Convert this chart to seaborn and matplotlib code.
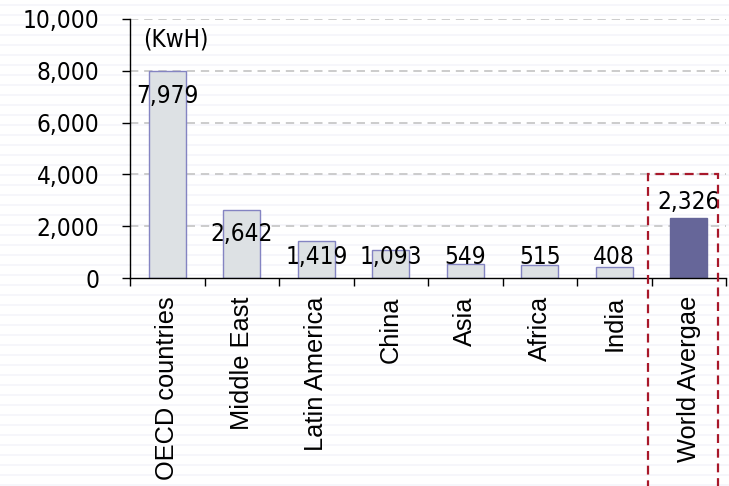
import matplotlib
matplotlib.use("Agg")
import matplotlib.pyplot as plt
import matplotlib.transforms as mtransforms
from matplotlib.patches import Rectangle
from matplotlib.font_manager import FontProperties
import seaborn as sns

# Per-capita electricity consumption (KwH)
categories = ["OECD countries", "Middle East", "Latin America", "China",
              "Asia", "Africa", "India", "World Avergae"]
values = [7979, 2642, 1419, 1093, 549, 515, 408, 2326]
value_labels = ["7,979", "2,642", "1,419", "1,093", "549", "515", "408", "2,326"]
highlight = "World Avergae"
unit_label = "(KwH)"
y_ticks = [0, 2000, 4000, 6000, 8000, 10000]

sns.set_theme(style="white")
plt.rcParams["font.family"] = ["DejaVu Sans"]
plt.rcParams["text.color"] = "black"
plt.rcParams["xtick.color"] = "black"
plt.rcParams["ytick.color"] = "black"

num_font = FontProperties(family="DejaVu Sans", stretch="condensed", size=17.5)
cat_font = FontProperties(family="Liberation Sans", size=18.3)

W, H = 729, 486
fig = plt.figure(figsize=(W / 100, H / 100), dpi=100)
fig.patch.set_facecolor("white")

# faint horizontal stripe texture behind everything
bg = fig.add_axes([0, 0, 1, 1], zorder=-5)
bg.set_xlim(0, W)
bg.set_ylim(H, 0)
bg.axis("off")
for y0 in range(4, H, 10):
    bg.axhspan(y0, y0 + 2, color="#F6F6FB", lw=0)

ax = fig.add_axes([130 / W, 1 - 278 / H, 596 / W, 259 / H])
ax.set_facecolor("none")

gray_fill, gray_edge = "#DDE1E4", "#8484C2"
hi_color = "#666699"
palette = {c: (hi_color if c == highlight else gray_fill) for c in categories}

sns.barplot(x=categories, y=values, hue=categories, palette=palette,
            legend=False, width=0.5, ax=ax, zorder=3, saturation=1)
for patch, cat in zip(ax.patches, categories):
    patch.set_edgecolor(hi_color if cat == highlight else gray_edge)
    patch.set_linewidth(1.0)

ax.set_xlim(-0.5, len(categories) - 0.5)
ax.set_ylim(0, 10000)
ax.set_yticks(y_ticks)
ax.set_yticklabels([f"{t:,}" for t in y_ticks])
for lab in ax.get_yticklabels():
    lab.set_fontproperties(num_font)
    lab.set_color("black")

# dashed gridlines
for t in y_ticks[1:]:
    ax.axhline(t, color="#C4C4C4", lw=1.2, ls=(0, (5, 3.5)), zorder=1)

# spines and ticks
for s in ["top", "right"]:
    ax.spines[s].set_visible(False)
for s in ["left", "bottom"]:
    ax.spines[s].set_color("black")
    ax.spines[s].set_linewidth(1.0)
    ax.spines[s].set_zorder(4)

ax.tick_params(axis="y", direction="out", length=6, width=1, color="black",
               pad=16, left=True)
ax.set_xticks(range(len(categories)))
ax.set_xticklabels(categories, rotation=90)
shift = mtransforms.ScaledTranslation(3 / 100, 0, fig.dpi_scale_trans)
for lab in ax.get_xticklabels():
    lab.set_fontproperties(cat_font)
    lab.set_color("black")
    lab.set_transform(lab.get_transform() + shift)
ax.tick_params(axis="x", which="major", length=0, pad=13)
ax.set_xticks([i - 0.5 for i in range(len(categories) + 1)], minor=True)
ax.tick_params(axis="x", which="minor", direction="out", length=6, width=1,
               color="black", bottom=True)
ax.set_xlabel("")
ax.set_ylabel("")

# value labels
for i, (v, lab, cat) in enumerate(zip(values, value_labels, categories)):
    if cat == highlight:
        y = v + 600
    else:
        y = max(v - 960, 810)
    ax.text(i, y, lab, ha="center", va="center", fontproperties=num_font,
            color="black", zorder=5)

ax.text(-0.32, 9200, unit_label, ha="left", va="center",
        fontproperties=num_font, color="black")

# dashed frame around the highlighted category
hi_idx = categories.index(highlight)
frame = Rectangle((hi_idx - 0.55, -9500), 0.94, 13500, fill=False,
                  edgecolor="#A8182A", lw=1.6, ls=(0, (4, 2.6)),
                  clip_on=False, zorder=6)
ax.add_patch(frame)

fig.savefig("out.png", dpi=100)
